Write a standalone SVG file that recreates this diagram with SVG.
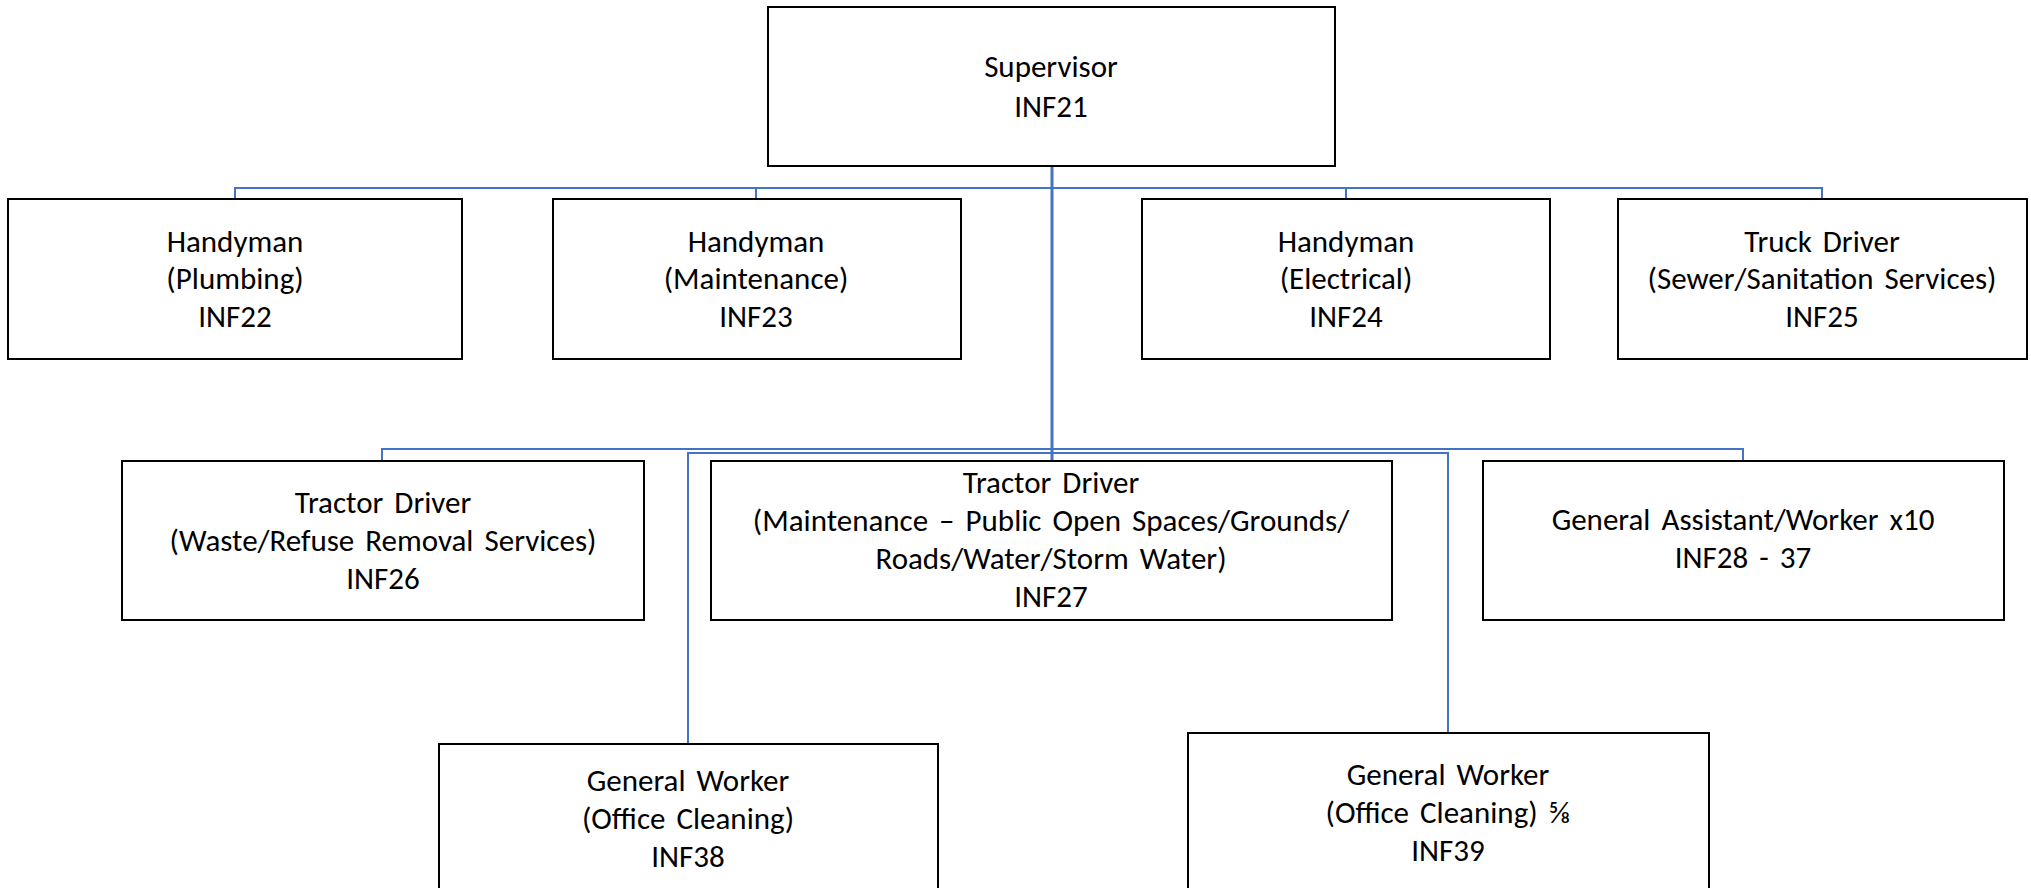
<svg xmlns="http://www.w3.org/2000/svg" width="2031" height="888" viewBox="0 0 2031 888">
<style>
.box{fill:#fff;stroke:#000;stroke-width:2}
.lbl{font-family:Carlito,Calibri,"Liberation Sans",Arial,sans-serif;font-size:31px;word-spacing:4px;fill:#000;text-anchor:middle}
.con{fill:none;stroke:#4472C4;stroke-width:2}
.main{fill:none;stroke:#4472C4;stroke-width:3}
</style>
<rect width="2031" height="888" fill="#fff"/>
<g id="connectors">
<path class="con" d="M235,199 V188 H1822 V199 M756,188 V199 M1346,188 V199"/>
<path class="con" d="M382,461 V449 H1743 V461"/>
<path class="con" d="M688,744 V453 H1448 V732"/>
<path class="main" d="M1052,166 V461"/>
</g>
<g id="n21"><rect class="box" x="768" y="7" width="567" height="159"/>
<text class="lbl" x="1051" y="77">Supervisor</text><text class="lbl" x="1051" y="117">INF21</text></g>
<g id="n22"><rect class="box" x="8" y="199" width="454" height="160"/>
<text class="lbl" x="235" y="252">Handyman</text><text class="lbl" x="235" y="289">(Plumbing)</text><text class="lbl" x="235" y="327">INF22</text></g>
<g id="n23"><rect class="box" x="553" y="199" width="408" height="160"/>
<text class="lbl" x="756" y="252">Handyman</text><text class="lbl" x="756" y="289">(Maintenance)</text><text class="lbl" x="756" y="327">INF23</text></g>
<g id="n24"><rect class="box" x="1142" y="199" width="408" height="160"/>
<text class="lbl" x="1346" y="252">Handyman</text><text class="lbl" x="1346" y="289">(Electrical)</text><text class="lbl" x="1346" y="327">INF24</text></g>
<g id="n25"><rect class="box" x="1618" y="199" width="409" height="160"/>
<text class="lbl" x="1822" y="252">Truck Driver</text><text class="lbl" x="1822" y="289">(Sewer/Sanitation Services)</text><text class="lbl" x="1822" y="327">INF25</text></g>
<g id="n26"><rect class="box" x="122" y="461" width="522" height="159"/>
<text class="lbl" x="383" y="513">Tractor Driver</text><text class="lbl" x="383" y="551">(Waste/Refuse Removal Services)</text><text class="lbl" x="383" y="589">INF26</text></g>
<g id="n27"><rect class="box" x="711" y="461" width="681" height="159"/>
<text class="lbl" x="1051" y="493">Tractor Driver</text><text class="lbl" x="1051" y="531">(Maintenance – Public Open Spaces/Grounds/</text><text class="lbl" x="1051" y="569">Roads/Water/Storm Water)</text><text class="lbl" x="1051" y="607">INF27</text></g>
<g id="n28"><rect class="box" x="1483" y="461" width="521" height="159"/>
<text class="lbl" x="1743" y="530">General Assistant/Worker x10</text><text class="lbl" x="1743" y="568">INF28 - 37</text></g>
<g id="n38"><rect class="box" x="439" y="744" width="499" height="160"/>
<text class="lbl" x="688" y="791">General Worker</text><text class="lbl" x="688" y="829">(Office Cleaning)</text><text class="lbl" x="688" y="867">INF38</text></g>
<g id="n39"><rect class="box" x="1188" y="733" width="521" height="170"/>
<text class="lbl" x="1448" y="785">General Worker</text><text class="lbl" x="1448" y="823">(Office Cleaning) ⅝</text><text class="lbl" x="1448" y="861">INF39</text></g>
</svg>
